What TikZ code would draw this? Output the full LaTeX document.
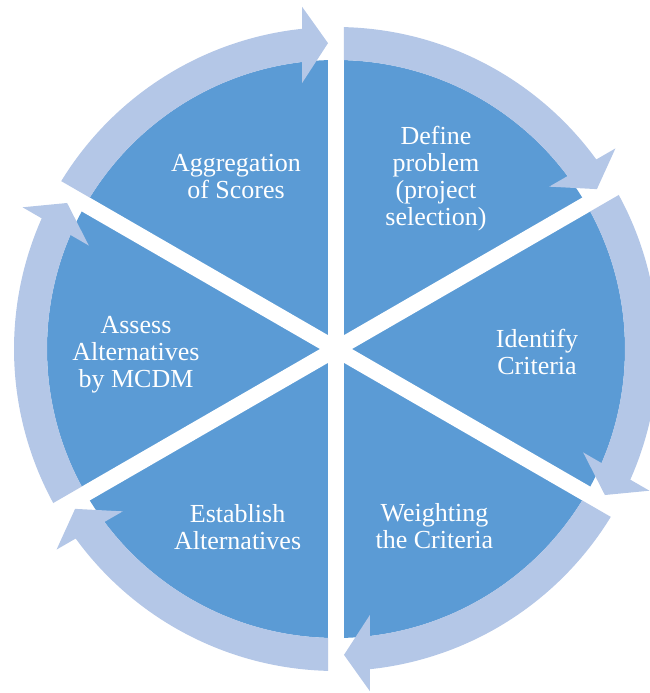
\documentclass[tikz,border=0pt]{standalone}
\usepackage{fontspec}
\setmainfont{Liberation Serif}
\definecolor{pieblue}{HTML}{5B9BD5}
\definecolor{ringblue}{HTML}{B4C7E7}
\begin{document}
\begin{tikzpicture}[x=1pt,y=1pt,every text node part/.style={align=center},
  steplabel/.style={text=white,font=\fontsize{26}{27}\selectfont},
  ringarrow/.style={fill=ringblue},
  gapline/.style={white,line width=16pt}]
\useasboundingbox (-336,-344) rectangle (313,349);
\fill[pieblue] (0,0) circle[radius=289pt];
\foreach \a in {30,90,150}
  \draw[gapline] (\a:345) -- (\a+180:345);
\foreach \c in {60,0,-60,-120,180,120}{
  \pgfmathsetmacro{\t}{\c+30}
  \pgfmathsetmacro{\h}{\c-30}
  \fill[ringarrow] ({\t-asin(8/322)}:322) arc[start angle={\t-asin(8/322)}, end angle={\h+asin(34/322)}, radius=322pt]
    -- ({\h+asin(34/344)}:344) -- ({\h+asin(8/306)}:306) -- ({\h+asin(34/268)}:268) -- ({\h+asin(34/289)}:289)
    arc[start angle={\h+asin(34/289)}, end angle={\t-asin(8/289)}, radius=289pt] -- cycle;
}
\node[steplabel,yshift=-3pt] (define) at (60:200) {Define\\problem\\(project\\selection)};
\node[steplabel,yshift=-3pt] (identify) at (0:201) {Identify\\Criteria};
\node[steplabel] (weighting) at (-61:203) {Weighting\\the Criteria};
\node[steplabel,yshift=-1pt] (establish) at (-119:203) {Establish\\Alternatives};
\node[steplabel,yshift=-6pt] (assess) at (180:200) {Assess\\Alternatives\\by MCDM};
\node[steplabel,yshift=-1pt] (aggregation) at (120:200) {Aggregation\\of Scores};
\end{tikzpicture}
\end{document}
